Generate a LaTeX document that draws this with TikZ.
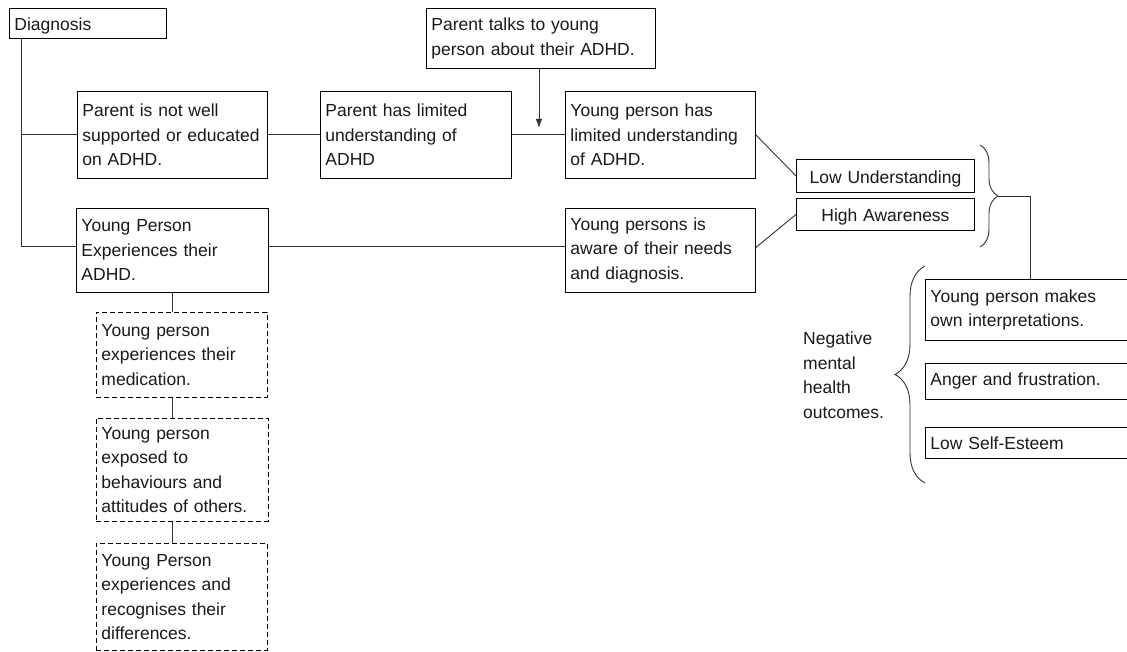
\documentclass[tikz,border=0pt]{standalone}
\usepackage{fontspec}
\setmainfont{Liberation Sans}
\usetikzlibrary{arrows.meta,decorations.pathreplacing}
\definecolor{txtc}{HTML}{1A1A1A}
\definecolor{linec}{HTML}{333333}
\newcommand{\bodyfont}{\fontsize{17.5}{24.5}\selectfont}
\tikzset{
  box/.style={draw=black, line width=0.9pt, inner xsep=5pt, inner ysep=2pt,
    align=left, anchor=north west, text=txtc, font=\bodyfont},
  cbox/.style={box, align=center, text height=15pt, text depth=0pt},
  dbox/.style={box, dash pattern=on 5pt off 3pt},
  conn/.style={draw=linec, line width=0.9pt},
  arr/.style={conn, -{Latex[length=9pt,width=6.5pt]}},
  brc/.style={draw=linec, line width=0.9pt, decorate},
  txt/.style={text=txtc, font=\bodyfont, align=left, inner sep=0pt}
}
\begin{document}
\begin{tikzpicture}[x=1pt,y=1pt]
\useasboundingbox (0,0) rectangle (1127,-652);
\clip (0,0) rectangle (1127,-652);
\fill[white] (0,0) rectangle (1127,-652);

% boxes
\node[box, text width=147pt, minimum height=30pt, text height=15pt, text depth=0pt] (DG) at (9,-8) {Diagnosis};
\node[box, text width=180pt, minimum height=87pt] (PN) at (77,-91) {Parent is not well\\supported or educated\\on ADHD.};
\node[box, text width=181pt, minimum height=87pt] (PL) at (320,-91) {Parent has limited\\understanding of\\ADHD};
\node[box, text width=219pt, minimum height=60pt] (PT) at (426,-8) {Parent talks to young\\person about their ADHD.};
\node[box, text width=180pt, minimum height=87pt] (YPL) at (565,-91) {Young person has\\limited understanding\\of ADHD.};
\node[box, text width=182pt, minimum height=84pt] (YPE) at (76,-208) {Young Person\\Experiences their\\ADHD.};
\node[box, text width=180pt, minimum height=84pt] (YPA) at (565,-208) {Young persons is\\aware of their needs\\and diagnosis.};
\node[cbox, text width=168pt, minimum height=33pt] (LU) at (796,-159) {Low Understanding};
\node[cbox, text width=168pt, minimum height=32pt] (HA) at (796,-198) {High Awareness};
\node[box, text width=200pt, minimum height=61pt] (YPM) at (925,-279) {Young person makes\\own interpretations.};
\node[box, text width=200pt, minimum height=36pt] (AF) at (925,-363) {Anger and frustration.};
\node[box, text width=200pt, minimum height=31pt] (LSE) at (925,-427) {Low Self-Esteem};
\node[dbox, text width=161pt, minimum height=85pt] (D1) at (96,-312) {Young person\\experiences their\\medication.};
\node[dbox, text width=162pt, minimum height=103pt] (D2) at (96,-418) {Young person\\exposed to\\behaviours and\\attitudes of others.};
\node[dbox, text width=161pt, minimum height=107pt] (D3) at (96,-543) {Young Person\\experiences and\\recognises their\\differences.};
\node[txt, anchor=west] (NEG) at (803,-375) {Negative\\mental\\health\\outcomes.};

% connectors
\draw[conn] ([xshift=12pt]DG.south west) |- (PN.west);
\draw[conn] ([xshift=12pt]DG.south west) |- ([yshift=4pt]YPE.west);
\draw[conn] (PN.east) -- (PL.west);
\draw[conn] (PL.east) -- (YPL.west);
\draw[arr] ([xshift=-2pt]PT.south) -- ([xshift=-2pt,yshift=7pt]PT.south |- PL.east);
\draw[conn] ([yshift=4pt]YPE.east) -- ([yshift=4pt]YPA.west);
\draw[conn] (YPL.east) -- (LU.west);
\draw[conn] ([yshift=3pt]YPA.east) -- (HA.west);
\draw[conn] (YPE.south) -- (YPE.south |- D1.north);
\draw[conn] (YPE.south |- D1.south) -- (YPE.south |- D2.north);
\draw[conn] (YPE.south |- D2.south) -- (YPE.south |- D3.north);

% braces
\coordinate (rb1) at (980,-145);
\coordinate (rb2) at (980,-247);
\coordinate (rbt) at (998,-196);
\draw[brc, decoration={brace, amplitude=18pt}] (rb1) -- (rb2);
\draw[conn] (rbt) -| (YPM.north);
\coordinate (lb1) at (925,-483);
\coordinate (lb2) at (925,-266);
\draw[brc, decoration={brace, amplitude=30pt}] (lb1) -- (lb2);
\end{tikzpicture}
\end{document}
